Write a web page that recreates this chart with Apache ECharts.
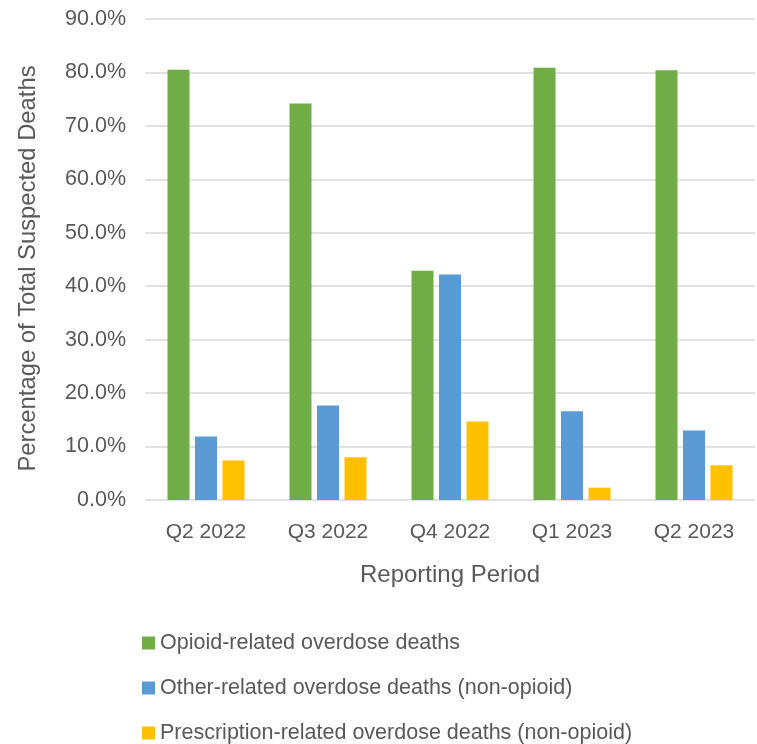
<!DOCTYPE html>
<html>
<head>
<meta charset="utf-8">
<script src="https://cdn.jsdelivr.net/npm/echarts@6/dist/echarts.min.js"></script>
<style>html,body{margin:0;padding:0;background:#fff}#c{width:757px;height:744px}</style>
</head>
<body>
<div id="c"></div>
<script>
const categories = ['Q2 2022', 'Q3 2022', 'Q4 2022', 'Q1 2023', 'Q2 2023'];
const opioid = [80.5, 74.2, 42.9, 80.9, 80.4];
const other = [11.9, 17.7, 42.2, 16.6, 13.0];
const prescription = [7.4, 8.0, 14.7, 2.3, 6.5];
const seriesNames = [
  'Opioid-related overdose deaths',
  'Other-related overdose deaths (non-opioid)',
  'Prescription-related overdose deaths (non-opioid)'
];
const colors = ['#70AD47', '#5B9BD5', '#FFC000'];

const font = '"Liberation Sans", Arial, sans-serif';
const txt = '#595959';
const chart = echarts.init(document.getElementById('c'));
const mk = (name, data, color) => ({
  name, type: 'bar', data, barWidth: 22, barGap: '25%',
  itemStyle: { color }
});
chart.setOption({
  animation: false,
  color: colors,
  grid: { left: 145, right: 2, top: 19, bottom: 244, containLabel: false },
  legend: {
    orient: 'vertical', left: 137, top: 626, height: 200,
    itemWidth: 13, itemHeight: 13, itemGap: 21, icon: 'rect',
    textStyle: { fontFamily: font, fontSize: 21.5, color: txt, lineHeight: 24 },
    data: seriesNames
  },
  xAxis: {
    type: 'category', data: categories,
    axisLine: { show: false }, axisTick: { show: false },
    axisLabel: { fontFamily: font, fontSize: 21, color: txt, margin: 22 },
    name: 'Reporting Period', nameLocation: 'middle', nameGap: 63,
    nameTextStyle: { fontFamily: font, fontSize: 24, color: txt }
  },
  yAxis: {
    type: 'value', min: 0, max: 90, interval: 10,
    axisLine: { show: false }, axisTick: { show: false },
    splitLine: { lineStyle: { color: '#d9d9d9', width: 1.5 } },
    axisLabel: { fontFamily: font, fontSize: 21.5, color: txt, margin: 19,
      formatter: v => v.toFixed(1) + '%' },
    name: 'Percentage of Total Suspected Deaths', nameLocation: 'middle', nameGap: 105,
    nameTextStyle: { fontFamily: font, fontSize: 23.8, color: txt, padding: [0, 18, 0, 0] }
  },
  series: [
    mk(seriesNames[0], opioid, colors[0]),
    mk(seriesNames[1], other, colors[1]),
    mk(seriesNames[2], prescription, colors[2])
  ]
});
</script>
</body>
</html>
